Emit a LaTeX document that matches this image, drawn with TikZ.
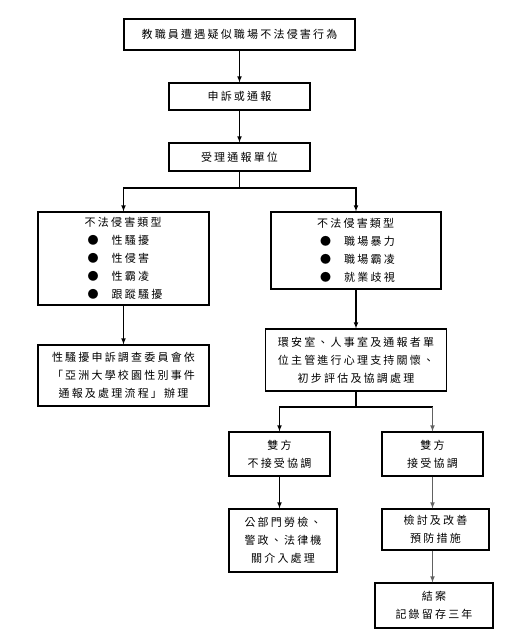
\documentclass[tikz,border=0pt]{standalone}
\usepackage{fontspec}
\setmainfont{Noto Sans CJK TC}[LetterSpace=20]
\usetikzlibrary{arrows, positioning, calc}
\newcommand{\dotitem}{\hspace{3pt}●\hspace{13pt}}

\begin{document}
\begin{tikzpicture}[x=1pt, y=-1pt, font=\fontsize{11}{18}\selectfont,
                box/.style={draw, line width=1.1pt, align=center, inner sep=0pt},
                link/.style={->, >=latex, line width=1.1pt},
                graylink/.style={link, draw=black!62}]
                \useasboundingbox (0,0) rectangle (527,635);
                % top chain
                \node[box, minimum width=231, minimum height=31] (event) at (239.5,34.5) {教職員遭遇疑似職場不法侵害行為};
                \node[box, minimum width=141, minimum height=27] (report) at (239.5,96.5) {申訴或通報};
                \node[box, minimum width=141, minimum height=28] (unit) at (239.5,157) {受理通報單位};
                \coordinate (fork) at (239.5,188);
                % two kinds of harm
                \node[box, minimum width=171, minimum height=93, align=left] (sexharm) at (123.5,258.5)
                    {不法侵害類型\\\dotitem 性騷擾\\\dotitem 性侵害\\\dotitem 性霸凌\\\dotitem 跟蹤騷擾};
                \node[box, minimum width=171, minimum height=61] (committee) at (123.5,375.5)
                    {性騷擾申訴調查委員會依\\「亞洲大學校園性別事件\\通報及處理流程」辦理};
                \node[box, minimum width=170, minimum height=77, align=left] (workharm) at (356,250.5)
                    {不法侵害類型\\\dotitem 職場暴力\\\dotitem 職場霸凌\\\dotitem 就業歧視};
                \node[box, minimum width=181, minimum height=62] (care) at (356,360)
                    {環安室、人事室及通報者單\\位主管進行心理支持關懷、\\初步評估及協調處理};
                \coordinate (fork2) at (356,407);
                % mediation
                \node[box, minimum width=101, minimum height=44] (refuse) at (279.5,454) {雙方\\不接受協調};
                \node[box, minimum width=101, minimum height=44] (accept) at (432.5,454) {雙方\\接受協調};
                \node[box, minimum width=108, minimum height=63] (external) at (283,540.5) {公部門勞檢、\\警政、法律機\\關介入處理};
                \node[box, minimum width=107, minimum height=41] (improve) at (435.5,529.5) {檢討及改善\\預防措施};
                \node[box, minimum width=118, minimum height=45] (closed) at (434,605.5) {結案\\記錄留存三年};
                \coordinate (turn) at (fork2 -| accept);
                % connectors
                \draw[link] (event) -- (report);
                \draw[link] (report) -- (unit);
                \draw[line width=1.1pt] (unit) -- (fork);
                \draw[link] (fork) -| (sexharm.north);
                \draw[link] (fork) -| (workharm.north);
                \draw[link] (sexharm) -- (committee);
                \draw[link] (workharm) -- (care);
                \draw[line width=1.1pt] (care) -- (fork2);
                \draw[link] (fork2) -| (refuse.north);
                \draw[line width=1.1pt] (fork2) -- (turn);
                \draw[graylink] (turn) -- (accept.north);
                \draw[link] (refuse) -- (refuse |- external.north);
                \draw[graylink] (accept) -- (accept |- improve.north);
                \draw[graylink] (improve.south -| accept) -- (closed.north -| accept);
            \end{tikzpicture}
\end{document}
